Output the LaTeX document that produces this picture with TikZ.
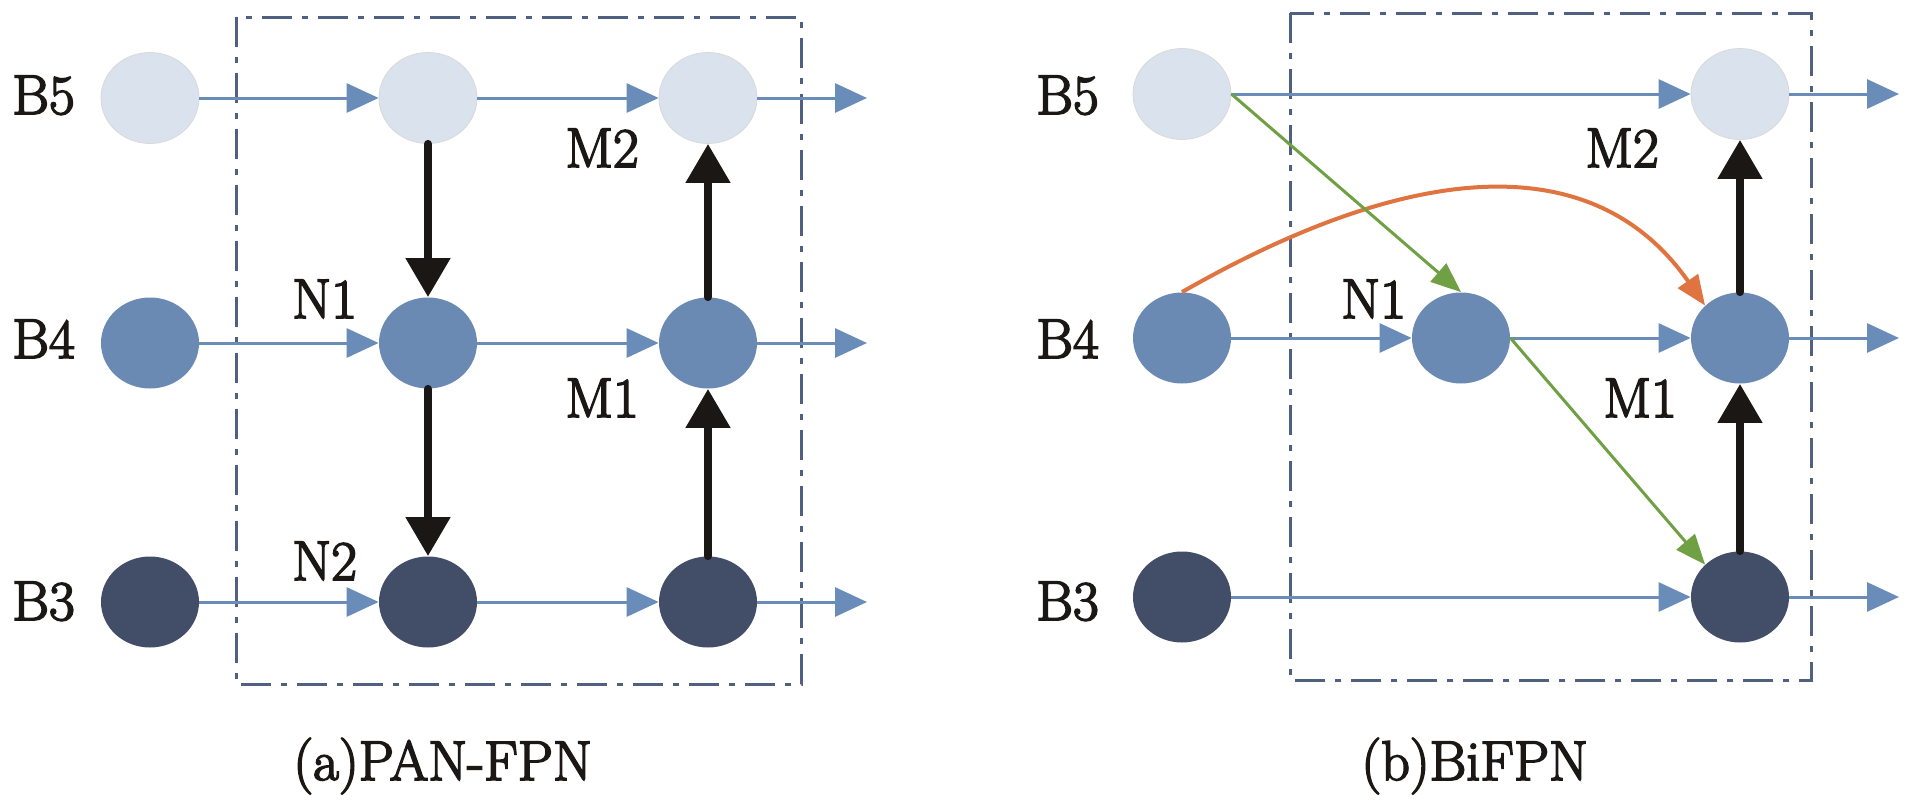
\documentclass[tikz,border=0pt]{standalone}
\usepackage{fontspec}
\newfontfamily\lblfont{Latin Modern Roman}[FakeBold=3]
\usetikzlibrary{arrows.meta,shapes.geometric}
\definecolor{lightc}{RGB}{218,227,237}
\definecolor{midc}{RGB}{106,138,179}
\definecolor{darkc}{RGB}{66,77,104}
\definecolor{bluearr}{RGB}{106,140,184}
\definecolor{blackarr}{RGB}{26,23,20}
\definecolor{greenarr}{RGB}{112,160,68}
\definecolor{orangearr}{RGB}{224,116,64}
\definecolor{boxc}{RGB}{79,96,128}
\begin{document}
\begin{tikzpicture}[x=0.5pt,y=-0.5pt,
 feat/.style={ellipse, minimum width=49pt, minimum height=45.5pt, inner sep=0pt},
 lightnode/.style={feat, fill=lightc, draw=black!15, line width=0.4pt},
 midnode/.style={feat, fill=midc},
 darknode/.style={feat, fill=darkc},
 flow/.style={draw=bluearr, line width=1.5pt, -{Triangle[length=16pt,width=14.5pt]}},
 fuse/.style={draw=blackarr, line width=4pt, line cap=round, -{Triangle[length=19.5pt,width=21.5pt]}},
 cross/.style={draw=greenarr, line width=1.5pt, -{Triangle[length=15pt,width=12pt]}},
 skip/.style={draw=orangearr, line width=2pt, -{Triangle[length=15pt,width=12pt]}},
 frame/.style={draw=boxc, line width=1.5pt, dash pattern=on 15pt off 5pt on 3pt off 5pt},
 lbl/.style={anchor=base west, inner sep=0pt, font=\lblfont\fontsize{28}{34}\selectfont, text=blackarr}
]
\fill[white] (0,0) rectangle (1913,803);
\useasboundingbox (0,0) rectangle (1913,803);

% ---------- (a) PAN-FPN ----------
\draw[frame] (236,17) rectangle (801,684);

\node[lightnode] (lB5) at (150,98) {};
\node[midnode]   (lB4) at (150,343) {};
\node[darknode]  (lB3) at (150,602) {};
\node[lightnode] (lP5) at (428,98) {};
\node[midnode]   (lN1) at (428,343) {};
\node[darknode]  (lN2) at (428,602) {};
\node[lightnode] (lM2) at (708,98) {};
\node[midnode]   (lM1) at (708,343) {};
\node[darknode]  (lQ3) at (708,602) {};

\coordinate (lO5) at (867,98);
\coordinate (lO4) at (867,343);
\coordinate (lO3) at (867,602);

\draw[flow] (lB5.east) -- (lP5.west);
\draw[flow] (lP5.east) -- (lM2.west);
\draw[flow] (lM2.east) -- (lO5);
\draw[flow] (lB4.east) -- (lN1.west);
\draw[flow] (lN1.east) -- (lM1.west);
\draw[flow] (lM1.east) -- (lO4);
\draw[flow] (lB3.east) -- (lN2.west);
\draw[flow] (lN2.east) -- (lQ3.west);
\draw[flow] (lQ3.east) -- (lO3);

\draw[fuse] (lP5.south) -- (lN1.north);
\draw[fuse] (lN1.south) -- (lN2.north);
\draw[fuse] (lQ3.north) -- (lM1.south);
\draw[fuse] (lM1.north) -- (lM2.south);

\node[lbl] (tlB5) at (12,114) {B5};
\node[lbl] (tlB4) at (12,358) {B4};
\node[lbl] (tlB3) at (12,620) {B3};
\node[lbl] (tlN1) at (292,318) {N1};
\node[lbl] (tlN2) at (292,580) {N2};
\node[lbl] (tlM2) at (565,167) {M2};
\node[lbl] (tlM1) at (565,417) {M1};
\node[lbl] (capA) at (293,780) {(a)PAN-FPN};

% ---------- (b) BiFPN ----------
\draw[frame] (1290,13) rectangle (1811,680);

\node[lightnode] (rB5) at (1182,94) {};
\node[midnode]   (rB4) at (1182,338) {};
\node[darknode]  (rB3) at (1182,597) {};
\node[midnode]   (rN1) at (1461,338) {};
\node[lightnode] (rM2) at (1740,94) {};
\node[midnode]   (rM1) at (1740,338) {};
\node[darknode]  (rQ3) at (1740,597) {};

\coordinate (rO5) at (1899,94);
\coordinate (rO4) at (1899,338);
\coordinate (rO3) at (1899,597);

\draw[flow] (rB5.east) -- (rM2.west);
\draw[flow] (rM2.east) -- (rO5);
\draw[flow] (rB4.east) -- (rN1.west);
\draw[flow] (rN1.east) -- (rM1.west);
\draw[flow] (rM1.east) -- (rO4);
\draw[flow] (rB3.east) -- (rQ3.west);
\draw[flow] (rQ3.east) -- (rO3);

\draw[skip] (rB4.north) .. controls (1395,170) and (1588,138) .. (rM1.north west);
\draw[cross] (rB5.east) -- (rN1.north);
\draw[cross] (rN1.east) -- (rQ3.north west);

\draw[fuse] (rQ3.north) -- (rM1.south);
\draw[fuse] (rM1.north) -- (rM2.south);

\node[lbl] (trB5) at (1036,114) {B5};
\node[lbl] (trB4) at (1036,358) {B4};
\node[lbl] (trB3) at (1036,620) {B3};
\node[lbl] (trN1) at (1341,318) {N1};
\node[lbl] (trM2) at (1585,167) {M2};
\node[lbl] (trM1) at (1603,417) {M1};
\node[lbl] (capB) at (1361,780) {(b)BiFPN};
\end{tikzpicture}
\end{document}
